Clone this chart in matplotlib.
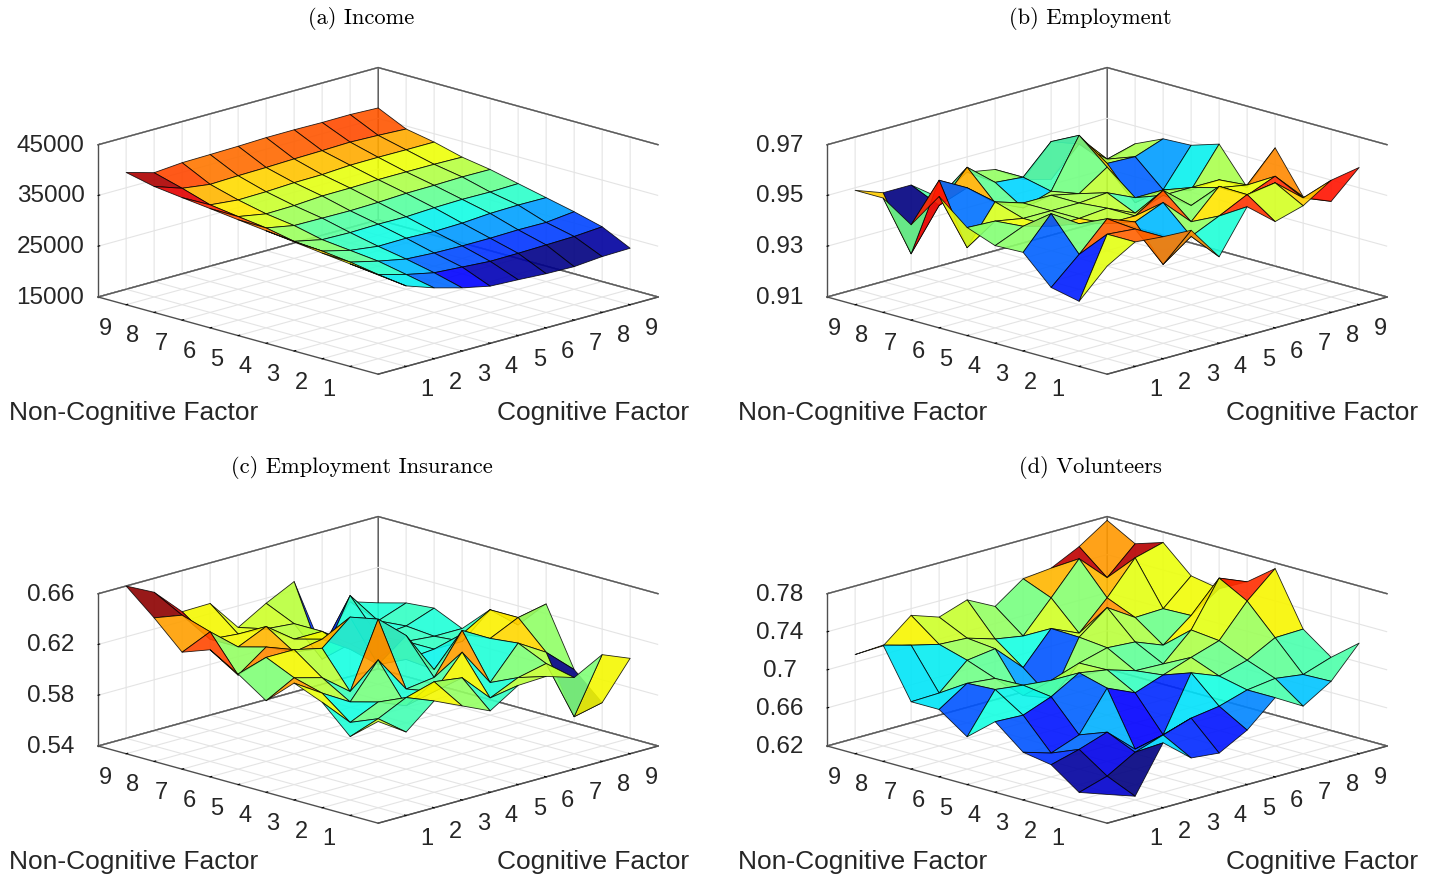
import numpy as np
import matplotlib
matplotlib.use("Agg")
import matplotlib.pyplot as plt

factor = [1, 2, 3, 4, 5, 6, 7, 8, 9, 10]
tick_labels = [1, 2, 3, 4, 5, 6, 7, 8, 9]

# rows: non-cognitive factor 1..10, columns: cognitive factor 1..10
income = [
    [31500, 27830, 25920, 24410, 23220, 22960, 22630, 22500, 22960, 23090],
    [32160, 28550, 27040, 25860, 25460, 25070, 25130, 25260, 25400, 25790],
    [32770, 29480, 28150, 27040, 26710, 26580, 26580, 26710, 26650, 27240],
    [33460, 30130, 28750, 28030, 28100, 27900, 28030, 28420, 28550, 28490],
    [34120, 30530, 29340, 29210, 29340, 29280, 29540, 29670, 29600, 29740],
    [34780, 31650, 30600, 30530, 30470, 30600, 30860, 30920, 31050, 31000],
    [35460, 32370, 31380, 31490, 31860, 31900, 32040, 32040, 32020, 31910],
    [36100, 33160, 32600, 32700, 32960, 33030, 33360, 33400, 33360, 33360],
    [36780, 34900, 34150, 34330, 34430, 34600, 34710, 34870, 34680, 34410],
    [38020, 36450, 36900, 36990, 37100, 37280, 37300, 37220, 37260, 37040],
]
employment = [
    [.9465, .9530, .9520, .9515, .9380, .9547, .9458, .9490, .9560, .9580],
    [.9296, .9530, .9520, .9350, .9430, .9480, .9534, .9550, .9460, .9416],
    [.9320, .9420, .9530, .9487, .9533, .9427, .9536, .9470, .9515, .9404],
    [.9428, .9550, .9480, .9450, .9450, .9520, .9430, .9470, .9450, .9566],
    [.9424, .9470, .9440, .9440, .9450, .9400, .9440, .9440, .9440, .9380],
    [.9465, .9460, .9440, .9440, .9440, .9450, .9400, .9400, .9370, .9520],
    [.9557, .9325, .9475, .9440, .9440, .9416, .9490, .9320, .9340, .9485],
    [.9415, .9560, .9500, .9410, .9360, .9395, .9585, .9444, .9440, .9480],
    [.9490, .9240, .9400, .9520, .9430, .9420, .9530, .9490, .9400, .9430],
    [.9490, .9450, .9450, .9370, .9440, .9420, .9350, .9320, .9455, .9330],
]
insurance = [
    [.608, .5936, .612, .602, .592, .606, .607, .600, .612, .603],
    [.590, .598, .6086, .615, .612, .590, .600, .605, .557, .562],
    [.611, .589, .599, .590, .595, .620, .590, .615, .6017, .582],
    [.620, .606, .593, .620, .591, .594, .625, .6126, .623, .6276],
    [.600, .612, .606, .589, .640, .621, .588, .610, .623, .605],
    [.615, .622, .622, .617, .6355, .592, .590, .592, .592, .611],
    [.628, .602, .618, .608, .612, .598, .585, .592, .590, .590],
    [.620, .630, .612, .622, .606, .606, .590, .590, .592, .600],
    [.641, .637, .612, .610, .608, .606, .572, .616, .590, .598],
    [.660, .649, .6276, .628, .603, .616, .627, .568, .599, .592],
]
volunteers = [
    [.634, .624, .672, .648, .645, .661, .687, .670, .688, .720],
    [.628, .637, .654, .664, .6736, .678, .687, .691, .687, .697],
    [.649, .657, .667, .641, .648, .705, .6935, .702, .7176, .7185],
    [.654, .645, .656, .697, .684, .6946, .705, .7145, .748, .774],
    [.678, .6767, .688, .705, .700, .691, .690, .7176, .764, .752],
    [.654, .6956, .692, .689, .699, .707, .705, .6935, .7166, .7366],
    [.6746, .694, .691, .665, .654, .710, .733, .7145, .7156, .742],
    [.6746, .6756, .702, .706, .678, .711, .698, .727, .761, .769],
    [.726, .7178, .7106, .709, .700, .695, .727, .760, .732, .7595],
    [.708, .709, .733, .723, .733, .718, .739, .742, .7565, .776],
]

titles = ["(a) Income", "(b) Employment", "(c) Employment Insurance", "(d) Volunteers"]
z_ticks = [
    [15000, 25000, 35000, 45000],
    [0.91, 0.93, 0.95, 0.97],
    [0.54, 0.58, 0.62, 0.66],
    [0.62, 0.66, 0.7, 0.74, 0.78],
]
z_labels = [
    ["15000", "25000", "35000", "45000"],
    ["0.91", "0.93", "0.95", "0.97"],
    ["0.54", "0.58", "0.62", "0.66"],
    ["0.62", "0.66", "0.7", "0.74", "0.78"],
]
color_limits = [(22500, 37400), (0.924, 0.960), (0.557, 0.642), (0.624, 0.768)]
panels = [income, employment, insurance, volunteers]

W, H = 1440, 879
SIZE = 565
fig = plt.figure(figsize=(W / 100, H / 100), dpi=100)
sans = "Liberation Sans"
text_col = "#262626"
X, Y = np.meshgrid(factor, factor)

for k in range(4):
    dx = 729 * (k % 2)
    dy = 449 * (k // 2)
    left = 88 + dx
    top = 229.5 + dy
    ax = fig.add_axes(
        [left / W, (H - top - SIZE / 2) / H, SIZE / W, SIZE / H],
        projection="3d",
        proj_type="ortho",
    )
    ax.patch.set_alpha(0)
    ax.view_init(elev=16, azim=-135)
    ax.set_box_aspect((1, 1, 0.4))

    Z = np.array(panels[k], dtype=float)
    # facet colour comes from its lowest-index corner
    vmin, vmax = color_limits[k]
    colors = plt.cm.jet(np.clip((Z - vmin) / (vmax - vmin), 0, 1))
    colors[..., 3] = 0.9
    surf = ax.plot_surface(X, Y, Z, facecolors=colors, rstride=1, cstride=1, shade=False)
    surf.set_edgecolor((0, 0, 0, 0.85))
    surf.set_linewidth(0.6)

    ax.set_xlim(0, 10, view_margin=0)
    ax.set_ylim(0, 10, view_margin=0)
    ax.set_zlim(z_ticks[k][0], z_ticks[k][-1], view_margin=0)
    ax.set_xticks(tick_labels)
    ax.set_yticks(tick_labels)
    ax.set_zticks(z_ticks[k])
    ax.set_xticklabels(tick_labels, fontsize=17, family=sans, color=text_col, ha="left")
    ax.set_yticklabels(tick_labels, fontsize=17, family=sans, color=text_col, ha="right")
    ax.set_zticklabels(z_labels[k], fontsize=17.5, family=sans, color=text_col, va="center")
    ax.tick_params(axis="x", pad=3)
    ax.tick_params(axis="y", pad=3)
    ax.tick_params(axis="z", pad=10)

    for axis in (ax.xaxis, ax.yaxis, ax.zaxis):
        axis.set_pane_color((1, 1, 1, 1))
        axis.pane.set_edgecolor("#5a5a5a")
        axis.pane.set_linewidth(1.0)
        axis.line.set_color("#505050")
        axis.line.set_linewidth(1.0)
        axis._axinfo["grid"].update(color="#e4e4e4", linewidth=0.8)
        axis._axinfo["tick"].update(color="#505050", inward_factor=0.0, outward_factor=0.07)

    # z gridlines at the limits paint over the pane edges, so draw the frame again
    for level in (z_ticks[k][0], z_ticks[k][-1]):
        ax.plot([0, 10, 10], [10, 10, 0], [level, level, level], color="#5a5a5a",
                linewidth=1.0, clip_on=False)

    fig.text((134 + dx) / W, 1 - (413.5 + dy) / H, "Non-Cognitive Factor", fontsize=19,
             family=sans, color=text_col, ha="center", va="center")
    fig.text((593.5 + dx) / W, 1 - (413.5 + dy) / H, "Cognitive Factor", fontsize=19,
             family=sans, color=text_col, ha="center", va="center")
    fig.text((361.5 + dx) / W, 1 - (18.5 + dy) / H, titles[k], fontsize=16.2,
             family="cmr10", color="black", ha="center", va="center")

fig.savefig("out.png", dpi=100)
